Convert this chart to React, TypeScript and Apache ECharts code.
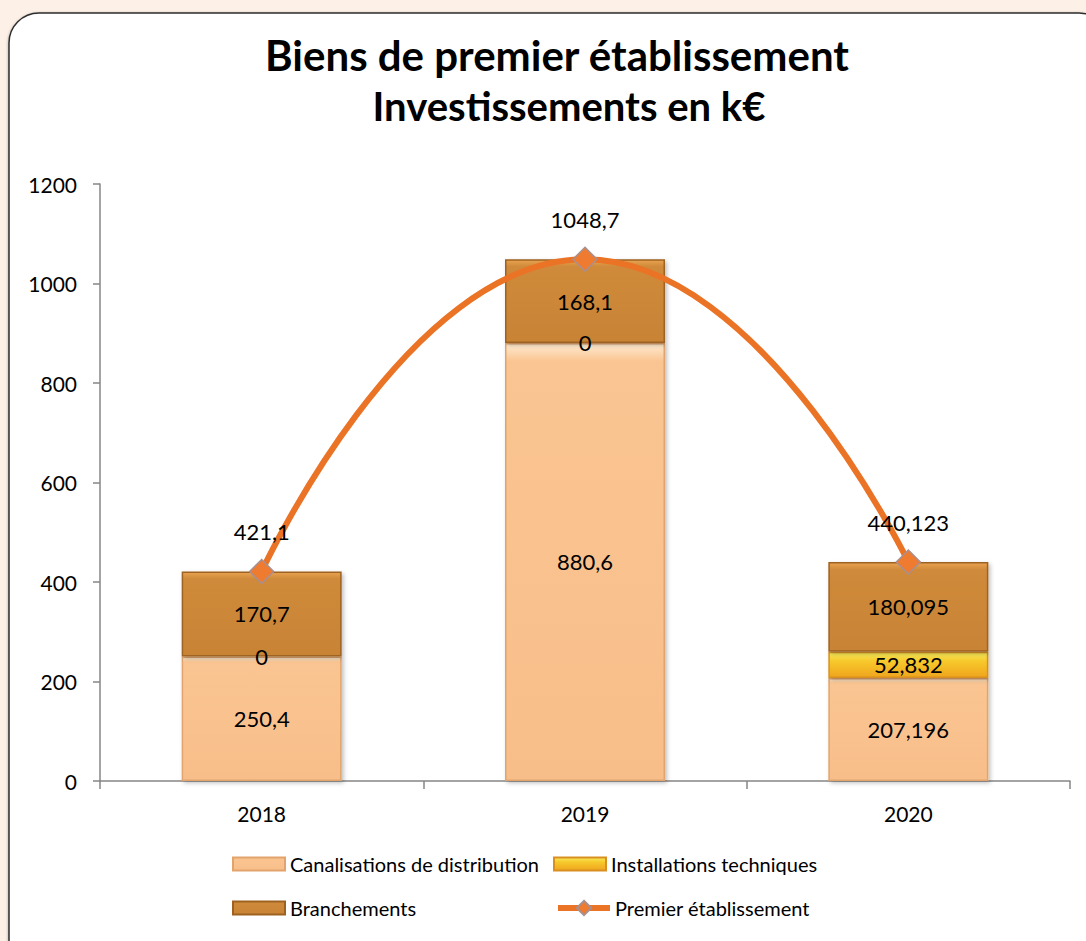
import React, { useEffect, useRef } from "react";
import * as echarts from "echarts";

const categories = ["2018", "2019", "2020"];
const canalisations = [250.4, 880.6, 207.196];
const installations = [0, 0, 52.832];
const branchements = [170.7, 168.1, 180.095];
const premier = [421.1, 1048.7, 440.123];
const yTicks = { min: 0, max: 1200, interval: 200 };

const titleLines = ["Biens de premier établissement", "Investissements en k€"];
const seriesNames = [
  "Canalisations de distribution",
  "Installations techniques",
  "Branchements",
  "Premier établissement",
];

const FONT = "Lato, 'Open Sans', sans-serif";

const fmt = (v: number) => String(v).replace(".", ",");

export default function App() {
  const ref = useRef<HTMLDivElement>(null);
  useEffect(() => {
    if (!ref.current) return;
    const chart = echarts.init(ref.current, undefined, { renderer: "svg" });
    const barLabel = {
      show: true,
      position: "inside",
      color: "#000",
      fontSize: 22,
      fontFamily: FONT,
      formatter: (p: any) => fmt(p.value),
    };
    const shadow = {
      shadowBlur: 4,
      shadowColor: "rgba(0,0,0,0.25)",
      shadowOffsetX: 2,
      shadowOffsetY: 2,
    };
    const canalColor = new echarts.graphic.LinearGradient(0, 0, 0, 1, [
      { offset: 0, color: "#FDEBD2" },
      { offset: 0.04, color: "#FAC592" },
      { offset: 1, color: "#F8BE8A" },
    ]);
    const instColor = new echarts.graphic.LinearGradient(0, 0, 0, 1, [
      { offset: 0, color: "#F6EC5E" },
      { offset: 0.35, color: "#F7C92C" },
      { offset: 1, color: "#EFA51E" },
    ]);
    const branchColor = new echarts.graphic.LinearGradient(0, 0, 0, 1, [
      { offset: 0, color: "#E9A350" },
      { offset: 0.08, color: "#CF8A3A" },
      { offset: 1, color: "#C98336" },
    ]);
    const legendBase = {
      orient: "horizontal",
      itemWidth: 52,
      itemHeight: 13,
      padding: 0,
      textStyle: { fontSize: 20, fontFamily: FONT, color: "#000" },
    };
    chart.setOption({
      animation: false,
      backgroundColor: "#FDF0E6",
      graphic: [
        {
          type: "rect",
          z: -10,
          shape: { x: 9, y: 13, width: 1100, height: 960, r: 30 },
          style: {
            fill: "#ffffff",
            stroke: "#2e2e2e",
            lineWidth: 1.5,
            shadowBlur: 3,
            shadowColor: "rgba(0,0,0,0.35)",
            shadowOffsetY: 1,
          },
        },
        {
          type: "text",
          x: 557,
          y: 55,
          style: {
            text: titleLines[0],
            fontSize: 42,
            fontWeight: "bold",
            fontFamily: FONT,
            fill: "#000",
            textAlign: "center",
            textVerticalAlign: "middle",
          },
        },
        {
          type: "text",
          x: 569,
          y: 106,
          style: {
            text: titleLines[1],
            fontSize: 40,
            fontWeight: "bold",
            fontFamily: FONT,
            fill: "#000",
            textAlign: "center",
            textVerticalAlign: "middle",
          },
        },
      ],
      legend: [
        { ...legendBase, left: 232, top: 854, icon: "rect", data: [seriesNames[0]] },
        { ...legendBase, left: 553, top: 854, icon: "rect", data: [seriesNames[1]] },
        { ...legendBase, left: 232, top: 898, icon: "rect", data: [seriesNames[2]] },
        {
          ...legendBase,
          left: 555,
          top: 898,
          itemWidth: 52,
          itemHeight: 18,
          lineStyle: { width: 6 },
          data: [seriesNames[3]],
        },
      ],
      grid: { left: 100, right: 16, top: 184, bottom: 160, containLabel: false },
      xAxis: {
        type: "category",
        data: categories,
        boundaryGap: true,
        axisLine: { show: true, lineStyle: { color: "#868686", width: 1.5 } },
        axisTick: { show: true, length: 8, lineStyle: { color: "#868686", width: 1.5 } },
        axisLabel: { color: "#000", fontSize: 21, fontFamily: FONT, margin: 22 },
      },
      yAxis: {
        type: "value",
        min: yTicks.min,
        max: yTicks.max,
        interval: yTicks.interval,
        splitLine: { show: false },
        axisLine: { show: true, lineStyle: { color: "#868686", width: 1.5 } },
        axisTick: { show: true, length: 7, lineStyle: { color: "#868686", width: 1.5 } },
        axisLabel: {
          color: "#000",
          fontSize: 21,
          fontFamily: FONT,
          margin: 23,
          formatter: (v: number) => String(v),
        },
      },
      series: [
        {
          name: seriesNames[0],
          type: "bar",
          stack: "total",
          barWidth: 160,
          data: canalisations,
          itemStyle: { color: canalColor, borderColor: "#E2A46C", borderWidth: 1.5, ...shadow },
          label: barLabel,
        },
        {
          name: seriesNames[1],
          type: "bar",
          stack: "total",
          barWidth: 160,
          data: installations,
          itemStyle: { color: instColor, borderColor: "#D99020", borderWidth: 1.5, ...shadow },
          label: barLabel,
        },
        {
          name: seriesNames[2],
          type: "bar",
          stack: "total",
          barWidth: 160,
          data: branchements,
          itemStyle: { color: branchColor, borderColor: "#9E6220", borderWidth: 1.5, ...shadow },
          label: barLabel,
        },
        {
          name: seriesNames[3],
          type: "line",
          data: premier,
          smooth: 0.55,
          z: 5,
          symbol: "diamond",
          symbolSize: 24,
          lineStyle: { color: "#EA7326", width: 6 },
          itemStyle: { color: "#EE7B30", borderColor: "#A89090", borderWidth: 1.5 },
          label: {
            show: true,
            position: "top",
            distance: 16,
            color: "#000",
            fontSize: 22,
            fontFamily: FONT,
            formatter: (p: any) => fmt(p.value),
          },
        },
      ],
    });
    return () => chart.dispose();
  }, []);
  return (
    <div
      ref={ref}
      style={{ position: "fixed", left: 0, top: 0, width: 1086, height: 941 }}
    />
  );
}
